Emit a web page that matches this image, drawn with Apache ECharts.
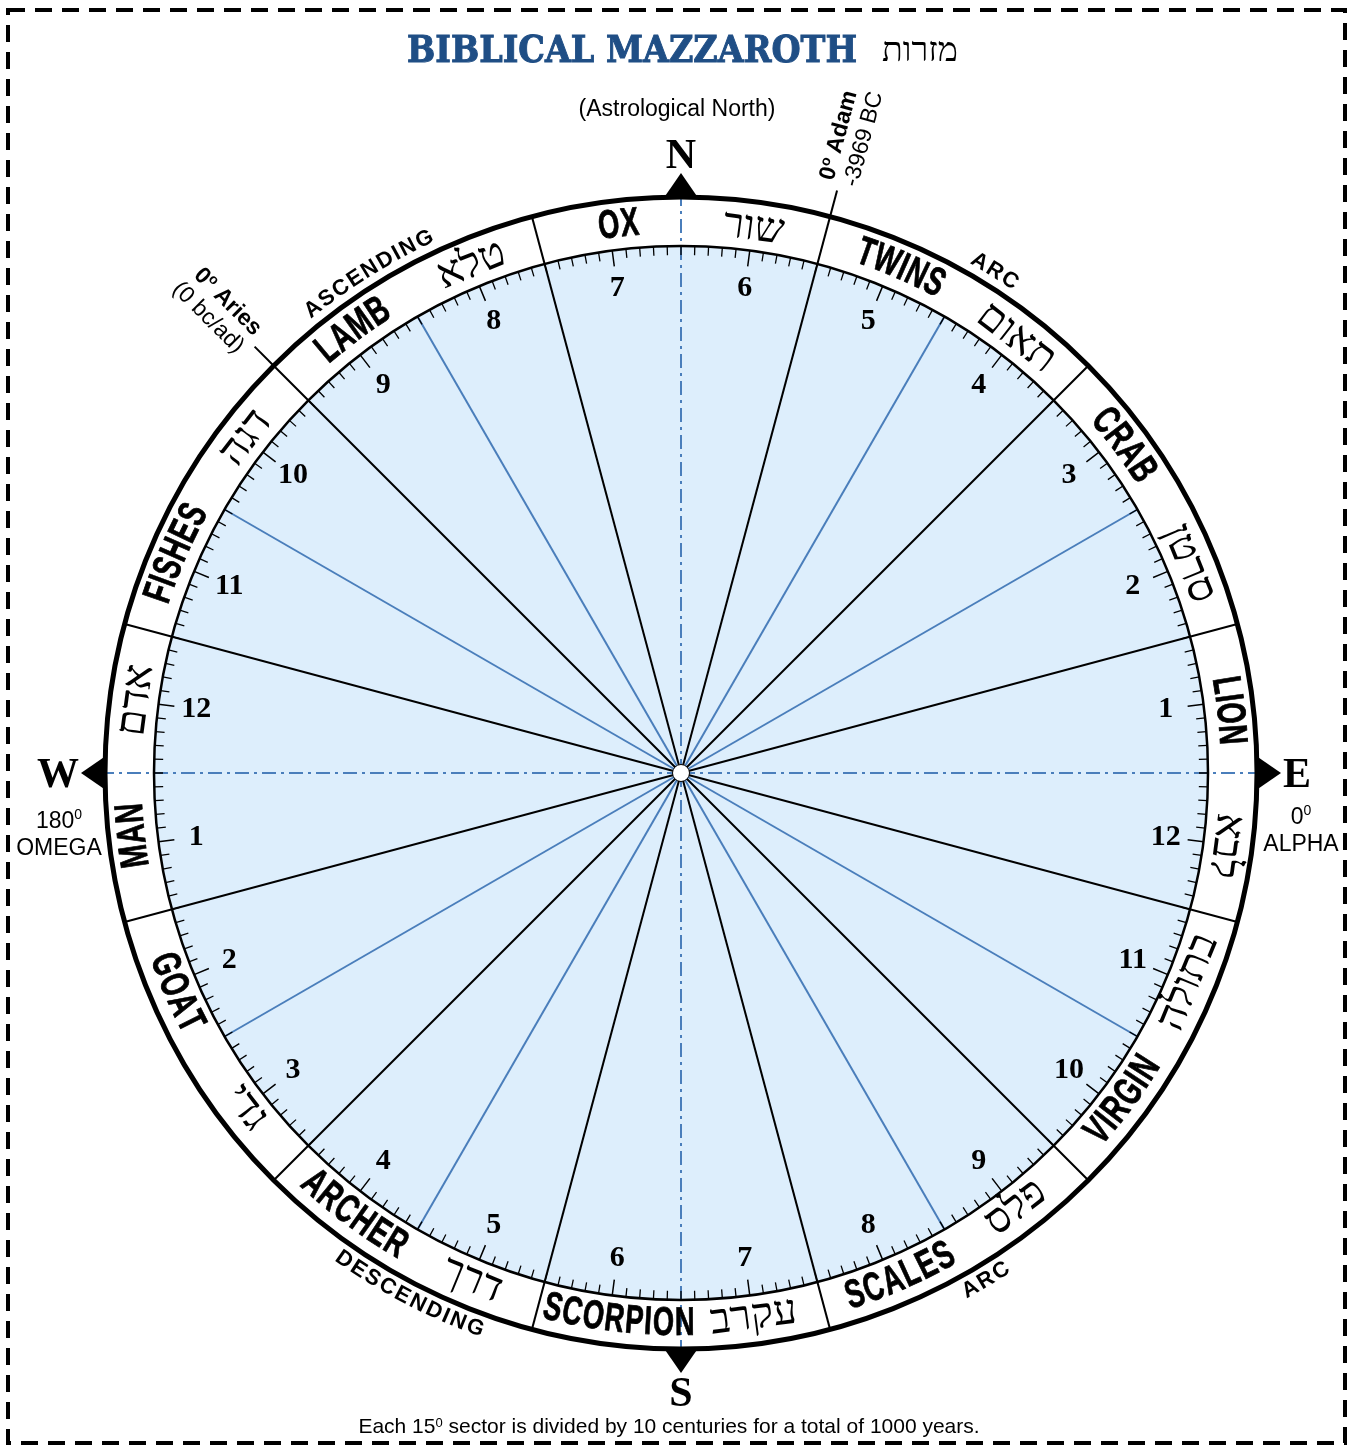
<!DOCTYPE html>
<html>
<head>
<meta charset="utf-8">
<title>Biblical Mazzaroth</title>
<script src="https://cdn.jsdelivr.net/npm/echarts@6.0.0/dist/echarts.min.js"></script>
<style>
  html, body { margin: 0; padding: 0; background: #fff; }
  #chart { width: 1352px; height: 1447px; }
</style>
</head>
<body>
<div id="chart"></div>
<script>
// angles in degrees, 0 = east, counter-clockwise
const signNames = ['LION', 'CRAB', 'TWINS', 'OX', 'LAMB', 'FISHES', 'MAN', 'GOAT', 'ARCHER', 'SCORPION', 'SCALES', 'VIRGIN'];
const hebrewNames = ['לבא', 'סרטן', 'תאום', 'שור', 'טלא', 'דגה', 'אדם', 'גדי', 'דרך', 'עקרב', 'פלס', 'בתולה'];
const signAngles = [0, 30, 60, 90, 120, 150, 180, 210, 240, 270, 300, 330];
const borderAngles = [15, 45, 75, 105, 135, 165, 195, 225, 255, 285, 315, 345];
const halfAngles = [30, 60, 120, 150, 210, 240, 300, 330];
const compassAngles = [0, 90, 180, 270];
const compassLetters = ['E', 'N', 'W', 'S'];
const centuryLabels = ['1', '2', '3', '4', '5', '6', '7', '8', '9', '10', '11', '12',
                       '1', '2', '3', '4', '5', '6', '7', '8', '9', '10', '11', '12'];
const centuryAngles = [7.5, 22.5, 37.5, 52.5, 67.5, 82.5, 97.5, 112.5, 127.5, 142.5, 157.5, 172.5,
                       187.5, 202.5, 217.5, 232.5, 247.5, 262.5, 277.5, 292.5, 307.5, 322.5, 337.5, 352.5];
const arcWords = ['ASCENDING', 'ARC', 'DESCENDING', 'ARC'];
const arcWordAngles = [122, 58, 242.5, 301];
const epochAngles = [75, 135];
const epochNames = ['Adam', 'Aries'];
const epochNotes = ['-3969 BC', '(0 bc/ad)'];

// layout
const CX = 681, CY = 773;
const R_OUT = 576, R_IN = 527, R_RING = 551, R_NUM = 489, R_ARC = 592;
const DEG = Math.PI / 180;
const FILL = '#ddeefc';
const BLUE = '#4a7ebb';
const SIGN_FONT = 'bold 40px "Liberation Sans", Arial, sans-serif';
const HEB_FONT = '42px "Liberation Serif", "DejaVu Sans", serif';
const ARC_FONT = 'bold 22px "Liberation Sans", Arial, sans-serif';
const NUM_FONT = 'bold 30px "Liberation Serif", "Times New Roman", serif';
const CARD_FONT = 'bold 42px "Liberation Serif", "Times New Roman", serif';
const SANS = '"Liberation Sans", Arial, sans-serif';

const measureCtx = document.createElement('canvas').getContext('2d');
function textWidth(str, font) {
    measureCtx.font = font;
    return measureCtx.measureText(str).width;
}

// letters laid one by one along a circle
function arcLetters(api, str, r, mid, outward, font, sx, gap, heavy) {
    const chars = Array.from(str);
    const widths = chars.map(ch => textWidth(ch, font) * sx);
    const total = widths.reduce((s, w) => s + w, 0) + gap * (chars.length - 1);
    let run = -total / 2;
    return chars.map((ch, k) => {
        const u = run + widths[k] / 2;
        run += widths[k] + gap;
        const ang = outward ? mid - u / r / DEG : mid + u / r / DEG;
        const p = api.coord([r, ang]);
        return {
            type: 'text', x: p[0], y: p[1],
            rotation: (ang + (outward ? -90 : 90)) * DEG,
            scaleX: sx,
            style: {
                text: ch, font: font, fill: '#000', align: 'center', verticalAlign: 'middle',
                stroke: heavy ? '#000' : null, lineWidth: heavy || 0
            }
        };
    });
}

function spokes(angles, reach, lineStyle, z) {
    return {
        type: 'custom', coordinateSystem: 'polar', polarIndex: 0, z: z, silent: true, clip: false,
        data: angles.map(a => [0, a]),
        renderItem: (params, api) => {
            const c = api.coord([0, api.value(1)]);
            const p = api.coord([reach, api.value(1)]);
            return { type: 'line', shape: { x1: c[0], y1: c[1], x2: p[0], y2: p[1] }, style: lineStyle };
        }
    };
}

const chart = echarts.init(document.getElementById('chart'), null, { renderer: 'canvas' });

const titleText = 'BIBLICAL MAZZAROTH';
const titleFont = 'bold 38px "DejaVu Serif", serif';

const option = {
    backgroundColor: '#fff',
    animation: false,
    polar: [
        { center: [CX, CY], radius: R_OUT },
        { center: [CX, CY], radius: R_IN }
    ],
    angleAxis: [
        {
            polarIndex: 0, type: 'value', min: 0, max: 360, startAngle: 0, clockwise: false, z: 6,
            axisLine: { lineStyle: { color: '#000', width: 5 } },
            axisTick: { show: false }, axisLabel: { show: false }, splitLine: { show: false }
        },
        {
            // centuries: one tick every 1.5 deg, long tick in the middle of each 15 deg sector
            polarIndex: 1, type: 'value', min: 7.5, max: 367.5, interval: 15, startAngle: 7.5, clockwise: false, z: 3,
            axisLine: { lineStyle: { color: '#000', width: 2.5 } },
            axisTick: { show: true, inside: true, length: 16, lineStyle: { color: '#000', width: 1.5 } },
            minorTick: { show: true, splitNumber: 10, length: 9, lineStyle: { color: '#000', width: 1.3 } },
            axisLabel: { show: false }, splitLine: { show: false }
        }
    ],
    radiusAxis: [
        { polarIndex: 0, type: 'value', min: 0, max: R_OUT, show: false },
        { polarIndex: 1, type: 'value', min: 0, max: R_IN, show: false }
    ],
    graphic: [
        {
            type: 'rect', z: 0, silent: true,
            shape: { x: 8, y: 10, width: 1337, height: 1433 },
            style: { fill: 'none', stroke: '#000', lineWidth: 4, lineDash: [17, 10] }
        },
        {
            type: 'text', x: 632, y: 52, scaleX: 450 / textWidth(titleText, titleFont),
            style: {
                text: titleText, font: titleFont, fill: '#1f4e85', stroke: '#1f4e85', lineWidth: 1,
                align: 'center', verticalAlign: 'middle'
            }
        },
        {
            type: 'text', x: 920, y: 52,
            style: { text: 'מזרות', font: '34px "Liberation Serif", serif', fill: '#000', align: 'center', verticalAlign: 'middle' }
        },
        {
            type: 'text', x: 677, y: 110,
            style: { text: '(Astrological North)', font: '23px ' + SANS, fill: '#000', align: 'center', verticalAlign: 'middle' }
        },
        {
            type: 'text', x: 59, y: 835,
            style: {
                text: '180{s|0}\nOMEGA', font: '23px ' + SANS, lineHeight: 27, fill: '#000', align: 'center', verticalAlign: 'middle',
                rich: { s: { font: '14px ' + SANS, verticalAlign: 'top' } }
            }
        },
        {
            type: 'text', x: 1301, y: 831,
            style: {
                text: '0{s|0}\nALPHA', font: '23px ' + SANS, lineHeight: 27, fill: '#000', align: 'center', verticalAlign: 'middle',
                rich: { s: { font: '14px ' + SANS, verticalAlign: 'top' } }
            }
        },
        {
            type: 'text', x: 669, y: 1427,
            style: {
                text: 'Each 15{s|0} sector is divided by 10 centuries for a total of 1000 years.',
                font: '21px ' + SANS, fill: '#000', align: 'center', verticalAlign: 'middle',
                rich: { s: { font: '13px ' + SANS, verticalAlign: 'top' } }
            }
        }
    ],
    series: [
        // light blue disk
        {
            type: 'custom', coordinateSystem: 'polar', polarIndex: 0, z: 1, silent: true, clip: false,
            data: [[0, 0]],
            renderItem: (params, api) => {
                const c = api.coord([0, 0]);
                const p = api.coord([R_IN, 0]);
                return { type: 'circle', shape: { cx: c[0], cy: c[1], r: p[0] - c[0] }, style: { fill: FILL } };
            }
        },
        spokes(halfAngles, R_IN, { stroke: BLUE, lineWidth: 2 }, 2),
        spokes(borderAngles, R_OUT, { stroke: '#000', lineWidth: 2 }, 2),
        spokes(compassAngles, R_OUT + 10, { stroke: BLUE, lineWidth: 2, lineDash: [14, 5, 3, 5] }, 2),
        // centre pin
        {
            type: 'custom', coordinateSystem: 'polar', polarIndex: 0, z: 4, silent: true, clip: false,
            data: [[0, 0]],
            renderItem: (params, api) => {
                const c = api.coord([0, 0]);
                return { type: 'circle', shape: { cx: c[0], cy: c[1], r: 8.5 }, style: { fill: '#fff', stroke: '#000', lineWidth: 1 } };
            }
        },
        // century numbers
        {
            type: 'custom', coordinateSystem: 'polar', polarIndex: 0, z: 4, silent: true, clip: false,
            data: centuryAngles.map(a => [0, a]),
            renderItem: (params, api) => {
                const p = api.coord([R_NUM, api.value(1)]);
                return {
                    type: 'text', x: p[0], y: p[1],
                    style: { text: centuryLabels[params.dataIndex], font: NUM_FONT, fill: '#000', align: 'center', verticalAlign: 'middle' }
                };
            }
        },
        // sign names in the ring
        {
            type: 'custom', coordinateSystem: 'polar', polarIndex: 0, z: 4, silent: true, clip: false,
            data: signAngles.map(a => [0, a]),
            renderItem: (params, api) => {
                const i = params.dataIndex;
                const a = api.value(1);
                const outward = Math.sin(a * DEG) > -0.25;
                const dir = outward ? 1 : -1;
                const children = arcLetters(api, signNames[i], R_RING, a + dir * 6.5, outward, SIGN_FONT, 0.68, 1, 0.8);
                const ha = a - dir * 7.6;
                const p = api.coord([R_RING - 2, ha]);
                children.push({
                    type: 'text', x: p[0], y: p[1],
                    rotation: (ha + (outward ? -90 : 90)) * DEG,
                    style: { text: hebrewNames[i], font: HEB_FONT, fill: '#000', align: 'center', verticalAlign: 'middle' }
                });
                return { type: 'group', children: children };
            }
        },
        // ascending / descending arc words
        {
            type: 'custom', coordinateSystem: 'polar', polarIndex: 0, z: 4, silent: true, clip: false,
            data: arcWordAngles.map(a => [0, a]),
            renderItem: (params, api) => {
                const a = api.value(1);
                const outward = Math.sin(a * DEG) > 0;
                return { type: 'group', children: arcLetters(api, arcWords[params.dataIndex], R_ARC, a, outward, ARC_FONT, 1, 2, 0) };
            }
        },
        // compass triangles and letters
        {
            type: 'custom', coordinateSystem: 'polar', polarIndex: 0, z: 7, silent: true, clip: false,
            data: compassAngles.map(a => [0, a]),
            renderItem: (params, api) => {
                const a = api.value(1);
                const half = 16 / R_OUT / DEG;
                const tip = api.coord([R_OUT + 24, a]);
                const b1 = api.coord([R_OUT + 1, a - half]);
                const b2 = api.coord([R_OUT + 1, a + half]);
                const cs = Math.cos(a * DEG);
                const side = Math.abs(cs) > 0.5;
                const lp = api.coord([side ? R_OUT + 26 : R_OUT + 43, a]);
                return {
                    type: 'group',
                    children: [
                        { type: 'polygon', shape: { points: [tip, b1, b2] }, style: { fill: '#000' } },
                        {
                            type: 'text', x: lp[0], y: lp[1] + 3,
                            style: {
                                text: compassLetters[params.dataIndex], font: CARD_FONT, fill: '#000',
                                align: side ? (cs > 0 ? 'left' : 'right') : 'center', verticalAlign: 'middle'
                            }
                        }
                    ]
                };
            }
        },
        // 0 deg Adam / 0 deg Aries markers
        {
            type: 'custom', coordinateSystem: 'polar', polarIndex: 0, z: 7, silent: true, clip: false,
            data: epochAngles.map(a => [0, a]),
            renderItem: (params, api) => {
                const i = params.dataIndex;
                const a = api.value(1);
                const p0 = api.coord([R_OUT, a]);
                const p1 = api.coord([R_OUT + 27, a]);
                const right = Math.cos(a * DEG) >= 0;
                const tp = api.coord([R_OUT + 35, a]);
                return {
                    type: 'group',
                    children: [
                        { type: 'line', shape: { x1: p0[0], y1: p0[1], x2: p1[0], y2: p1[1] }, style: { stroke: '#000', lineWidth: 2 } },
                        {
                            type: 'text', x: tp[0], y: tp[1],
                            rotation: (right ? a : a - 180) * DEG,
                            style: {
                                text: '{b|0}{o|o}{b| ' + epochNames[i] + '}\n' + epochNotes[i],
                                font: '23px ' + SANS, lineHeight: 25, fill: '#000',
                                align: right ? 'left' : 'right', verticalAlign: 'middle',
                                rich: {
                                    b: { font: 'bold 23px ' + SANS },
                                    o: { font: 'bold 14px ' + SANS, verticalAlign: 'top' }
                                }
                            }
                        }
                    ]
                };
            }
        }
    ]
};

chart.setOption(option);
</script>
</body>
</html>
